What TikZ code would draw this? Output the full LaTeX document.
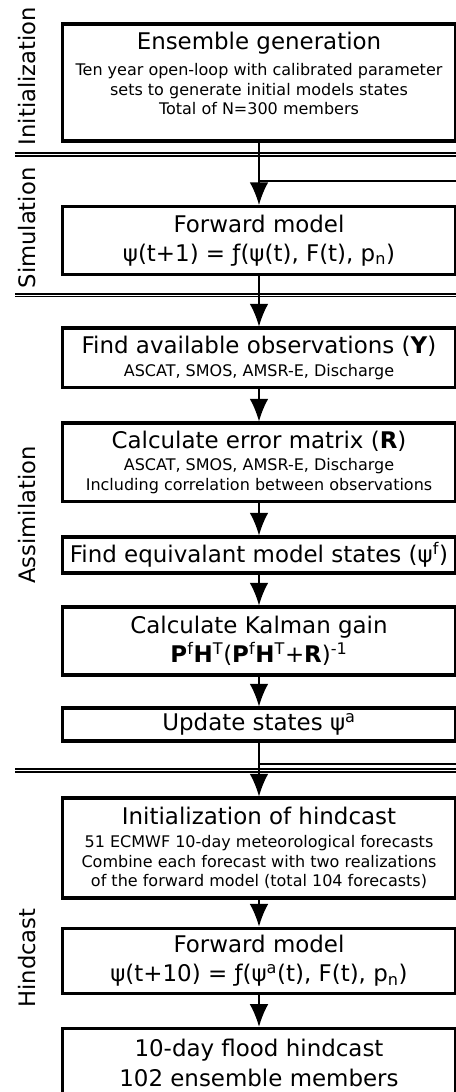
\documentclass[tikz,border=0pt]{standalone}
\usepackage{fontspec}
\setmainfont{DejaVu Sans}
\usetikzlibrary{arrows.meta}
\newcommand\ttlfont{\fontsize{17.2}{22}\selectfont}
\newcommand\subfont{\fontsize{12}{14.6}\selectfont}
\newcommand\lblfont{\fontsize{17}{20}\selectfont}
\tikzset{
  stepbox/.style={draw, line width=2.3pt, minimum width=294.75pt, inner sep=2pt, align=center, font=\subfont},
  flowarrow/.style={line width=1.2pt, -{Latex[length=17pt,width=14pt]}},
  phaseline/.style={line width=1.3pt, double, double distance=0.6pt},
  phaselabel/.style={rotate=90, font=\lblfont}
}
\begin{document}
\begin{tikzpicture}[x=0.75pt,y=0.75pt,yscale=-1,xscale=1]
\useasboundingbox (0,0) rectangle (456,1092);
\clip (0,0) rectangle (456,1092);

%Phase labels
\node[phaselabel] (lblinit) at (27,76) {Initialization};
\node[phaselabel] (lblsim) at (27,228) {Simulation};
\node[phaselabel] (lblassim) at (27,515) {Assimilation};
\node[phaselabel] (lblhind) at (27,958) {Hindcast};

%Phase separators
\draw [phaseline] (15,154.5) -- (470,154.5) ;
\draw [phaseline] (15,295) -- (470,295) ;
\draw [phaseline] (15,770.5) -- (470,770.5) ;

%Shape: Rectangle
\node[stepbox, minimum height=87.75pt] (ensgen) at (259,82.5) {{\ttlfont Ensemble generation}\\[5pt]Ten year open-loop with calibrated parameter\\sets to generate initial models states\\Total of N=300 members\\[-1pt]\mbox{}};
%Shape: Rectangle
\node[stepbox, minimum height=51pt, font=\ttlfont] (fwdsim) at (259,240.5) {Forward model\\ψ(t+1) = ƒ(ψ(t), F(t), p\textsubscript{n})};
%Shape: Rectangle
\node[stepbox, minimum height=44.6pt] (findobs) at (259,357.75) {{\ttlfont Find available observations (\textbf{Y})}\\[3pt]ASCAT, SMOS, AMSR-E, Discharge};
%Shape: Rectangle
\node[stepbox, minimum height=58.9pt] (errmat) at (259,462.25) {{\ttlfont Calculate error matrix (\textbf{R})}\\[2pt]ASCAT, SMOS, AMSR-E, Discharge\\Including correlation between observations};
%Shape: Rectangle
\node[stepbox, minimum height=27pt, font=\ttlfont] (equiv) at (259,555) {Find equivalant model states (ψ\textsuperscript{f})};
%Shape: Rectangle
\node[stepbox, minimum height=51pt, font=\ttlfont] (kalman) at (259,641) {Calculate Kalman gain\\\textbf{P}\textsuperscript{f}\textbf{H}\textsuperscript{T}(\textbf{P}\textsuperscript{f}\textbf{H}\textsuperscript{T}+\textbf{R})\textsuperscript{-1}};
%Shape: Rectangle
\node[stepbox, minimum height=24.75pt, font=\ttlfont] (update) at (259,724.5) {Update states ψ\textsuperscript{a}};
%Shape: Rectangle
\node[stepbox, minimum height=75pt] (hindinit) at (259,848) {{\ttlfont Initialization of hindcast}\\[3pt]51 ECMWF 10-day meteorological forecasts\\Combine each forecast with two realizations\\of the forward model (total 104 forecasts)};
%Shape: Rectangle
\node[stepbox, minimum height=49pt, font=\ttlfont] (fwdhind) at (259,960.75) {Forward model\\ψ(t+10) = ƒ(ψ\textsuperscript{a}(t), F(t), p\textsubscript{n})};
%Shape: Rectangle
\node[stepbox, minimum height=52pt, font=\ttlfont] (flood) at (259,1063) {10-day flood hindcast\\102 ensemble members};

%Loop returns
\coordinate (loopsim) at (259,181);
\coordinate (loopsimend) at (470,181);
\coordinate (loophind) at (259,764);
\coordinate (loophindend) at (470,764);
\draw [line width=0.9pt] (loopsim) -- (loopsimend) ;
\draw [line width=0.9pt] (loophind) -- (loophindend) ;

%Straight Lines
\draw [flowarrow] (ensgen) -- (fwdsim) ;
\draw [flowarrow] (fwdsim) -- (findobs) ;
\draw [flowarrow] (findobs) -- (errmat) ;
\draw [flowarrow] (errmat) -- (equiv) ;
\draw [flowarrow] (equiv) -- (kalman) ;
\draw [flowarrow] (kalman) -- (update) ;
\draw [flowarrow] (update) -- (hindinit) ;
\draw [flowarrow] (hindinit) -- (fwdhind) ;
\draw [flowarrow] (fwdhind) -- (flood) ;

\end{tikzpicture}
\end{document}
